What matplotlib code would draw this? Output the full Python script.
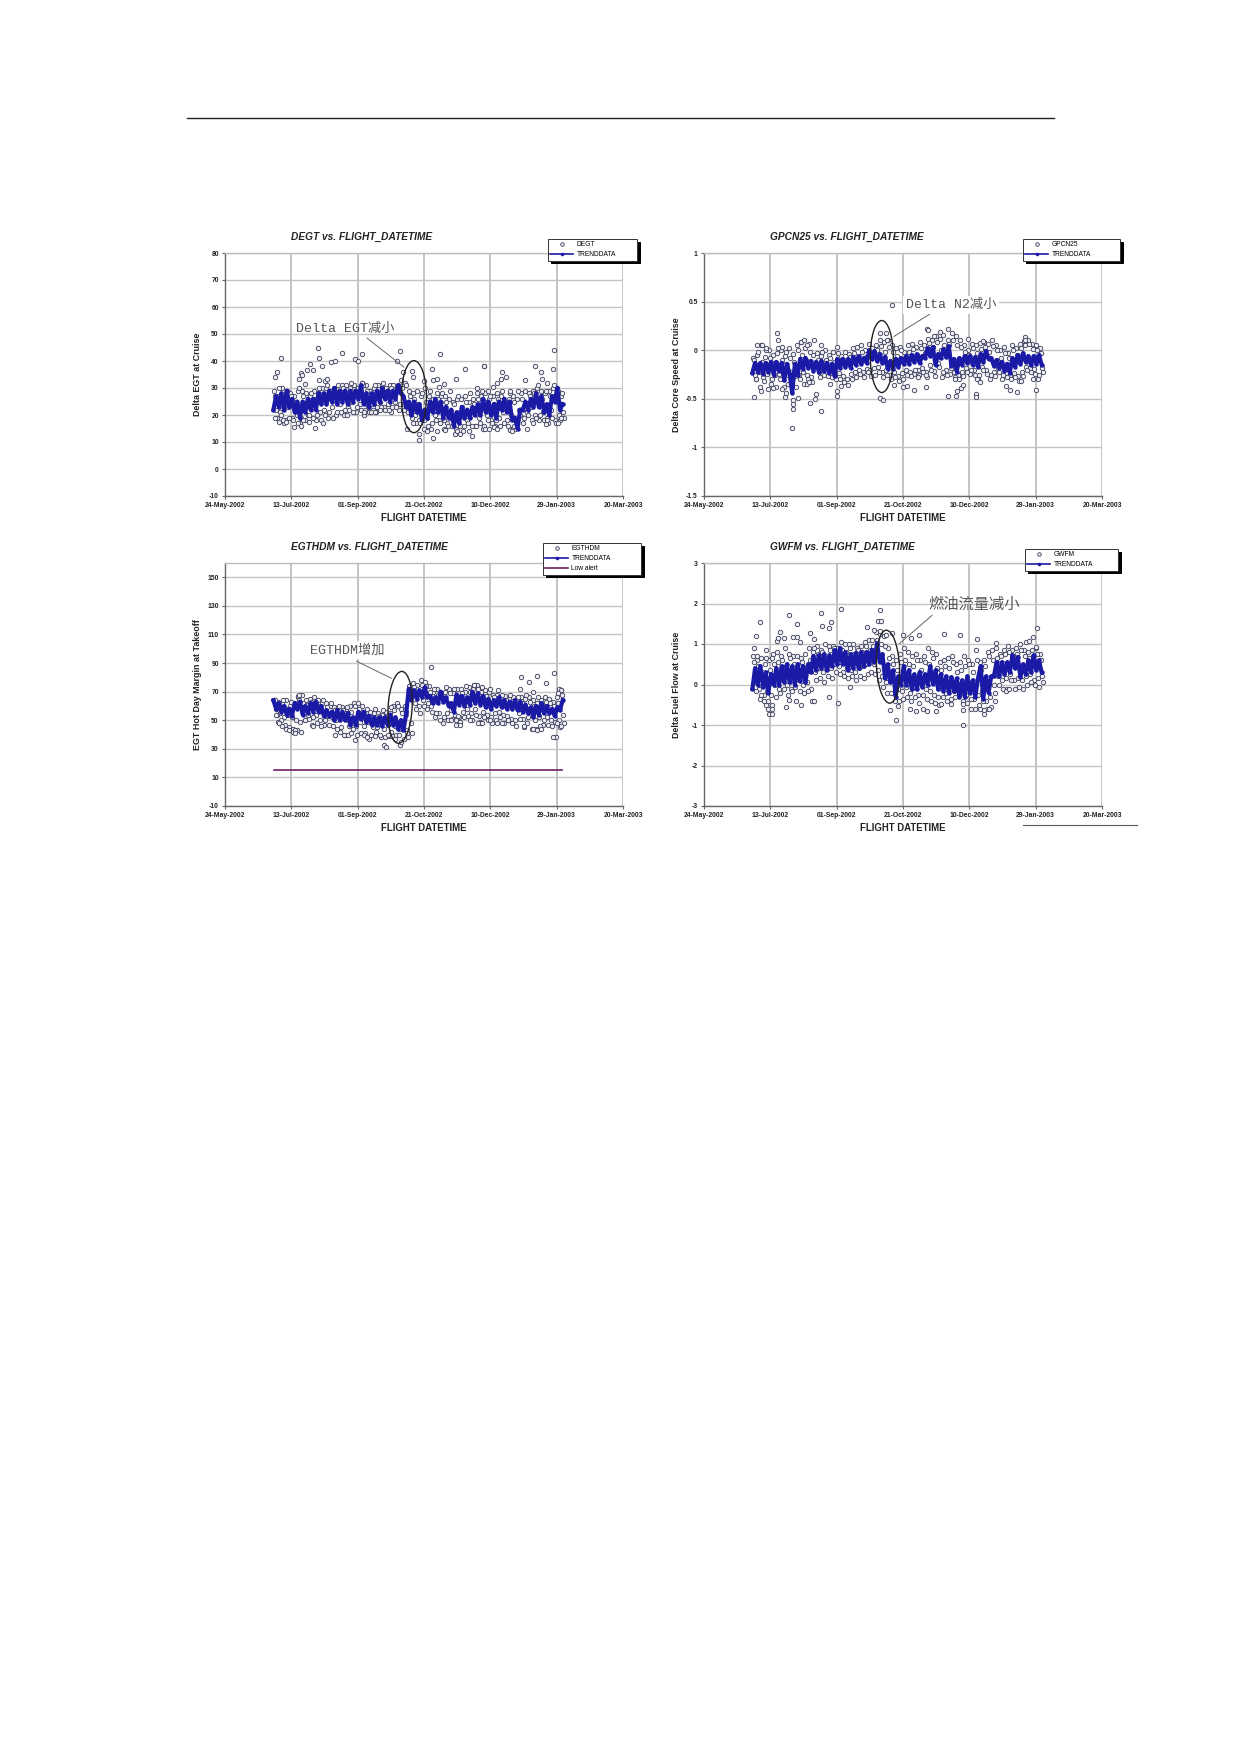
import numpy as np
import matplotlib
matplotlib.use('Agg')
import matplotlib.pyplot as plt
from matplotlib.patches import Ellipse
from matplotlib.transforms import IdentityTransform

W, H = 1239, 1752
plt.rcParams['font.family'] = ['Liberation Sans', 'DejaVu Sans']
ANNOT_FONT = ['Liberation Mono', 'Noto Sans CJK SC']

xtick_days = [0, 50, 100, 150, 200, 250, 300]
xtick_labels = ['24-May-2002', '13-Jul-2002', '01-Sep-2002', '21-Oct-2002', '10-Dec-2002', '29-Jan-2003', '20-Mar-2003']

# trend values, one every 2 days from day 37 (day 0 = 24-May-2002)
degt_trend = [22,27,23,28,22,29,23,26,21,25,19,25,21,26,22,26,22,28,24,28,24,29,25,30,24,29,25,29,24,29,25,29,26,31,24,28,23,28,24,29,25,30,26,29,25,29,26,31,28,27,23,25,20,25,21,24,18,22,19,25,21,26,21,25,19,23,19,22,16,21,17,23,19,22,19,23,20,24,20,26,21,25,20,24,19,25,22,26,21,25,18,19,15,22,22,25,22,26,23,28,23,27,21,24,20,27,25,30,22,24]
gpcn_trend = [-.23,-.13,-.22,-.13,-.24,-.13,-.22,-.12,-.25,-.12,-.21,-.13,-.31,-.14,-.24,-.44,-.14,-.26,-.09,-.19,-.08,-.18,-.11,-.21,-.12,-.22,-.11,-.21,-.13,-.23,-.14,-.27,-.09,-.18,-.09,-.17,-.09,-.18,-.07,-.15,-.06,-.14,-.08,-.13,0,-.09,-.01,-.11,-.04,-.13,-.07,-.19,-.11,-.19,-.09,-.17,-.08,-.14,-.06,-.14,-.05,-.12,-.04,-.13,-.06,-.08,.02,-.06,.03,-.15,-.04,-.08,.01,-.07,.04,-.16,-.09,-.22,-.08,-.15,-.06,-.13,-.06,-.15,-.07,-.17,-.04,-.12,-.01,-.09,-.08,-.16,-.1,-.18,-.12,-.21,-.14,-.23,-.08,-.17,-.05,-.14,-.03,-.12,-.06,-.15,-.06,-.14,-.05,-.15]
egthdm_trend = [64,58,62,56,60,54,58,53,62,58,63,54,60,55,62,56,63,56,60,53,57,53,56,50,57,50,56,50,55,47,52,47,56,51,56,49,53,47,52,47,52,46,52,47,54,47,52,44,50,43,54,72,64,71,65,71,66,73,66,67,62,66,62,70,63,66,60,62,56,68,61,67,60,66,61,70,62,69,61,67,59,65,58,64,60,66,59,64,58,63,58,64,57,63,56,61,55,59,52,60,54,62,55,60,55,58,53,59,57,64]
gwfm_trend = [-.1,.4,0,.45,-.05,.3,-.2,.25,0,.4,-.02,.45,.05,.5,.05,.45,0,.5,.08,.45,.05,.5,.3,.7,.35,.72,.4,.75,.35,.72,.45,.85,.5,.9,.5,.8,.35,.75,.4,.78,.4,.8,.45,.8,.5,.85,.55,1.02,.55,.75,.15,.5,.05,.35,-.3,.2,0,.45,0,.35,-.1,.25,-.12,.3,-.05,.25,0,.45,.02,.35,-.12,.25,-.15,.2,-.2,.18,-.15,.15,-.3,.1,-.3,.2,-.2,.1,-.3,.15,.45,-.35,.2,-.2,.2,.2,.55,.2,.55,.25,.55,.3,.72,.4,.68,.18,.5,.25,.6,.3,.72,.35,.6,.3]

# points just above and below the trend band, one every 3 days
degt_hi = [29,27,30,28,28,27,29,29,28,27,29,28,30,30,29,30,31,31,31,30,31,30,32,31,29,30,31,31,30,31,31,30,33,32,29,28,29,27,30,27,26,28,27,27,26,25,26,26,27,25,26,28,27,28,26,27,28,27,25,26,27,26,28,29,28,29,30,29,28,29,30,30,27]
degt_lo = [19,20,18,19,18,20,19,18,20,19,20,18,20,21,19,21,21,22,22,21,23,22,22,21,22,23,23,22,22,23,23,24,22,21,19,17,17,18,16,17,18,17,18,16,16,15,16,16,17,16,16,17,16,18,17,18,16,17,16,15,16,20,19,20,18,19,20,18,17,19,17,18,19]
degt_up = [27,30,26,29,27,25,30,27,24,28,26,30,27,31,26,29,28,30,27,32,29,28,31,29,27,31,28,32,29,30,28,31,30,31,27,26,24,28,25,29,24,26,28,25,29,24,27,23,25,28,24,26,29,25,27,24,26,29,24,28,25,29,26,24,27,28,31,26,29,27,31,29,28]
degt_dn = [22,21,17,23,19,21,17,22,20,23,18,21,22,19,23,20,24,20,23,25,21,24,20,23,24,21,25,23,24,21,25,22,24,23,21,20,18,21,19,15,20,18,21,17,19,18,20,14,18,20,16,19,15,20,18,16,19,21,18,20,15,22,17,21,23,20,18,21,19,22,18,20,21]
gpcn_hi = [-.08,-.05,.05,-.07,0,-.05,-.03,0,-.06,.02,-.04,.05,.08,.02,.06,-.05,-.03,-.06,0,-.05,-.02,.03,-.06,-.02,-.04,.02,.03,.05,0,.06,.02,.05,.1,.08,.1,.05,.02,.03,-.02,.05,.06,.03,.08,.05,.12,.1,.15,.12,.05,.1,.18,.15,.1,.05,0,.06,.05,.07,.08,.06,.1,.05,0,.03,-.03,.05,.02,.06,.09,.1,.06,.05,.02]
gpcn_lo = [-.3,-.38,-.32,-.4,-.3,-.38,-.3,-.38,-.35,-.3,-.38,-.3,-.35,-.3,-.33,-.45,-.28,-.25,-.27,-.28,-.3,-.3,-.33,-.36,-.3,-.28,-.24,-.28,-.22,-.27,-.25,-.22,-.28,-.25,-.3,-.28,-.32,-.3,-.25,-.27,-.2,-.25,-.22,-.28,-.2,-.27,-.17,-.22,-.25,-.18,-.28,-.3,-.27,-.22,-.2,-.25,-.25,-.2,-.24,-.25,-.27,-.22,-.25,-.28,-.3,-.28,-.32,-.27,-.2,-.22,-.24,-.25,-.22]
gpcn_up = [-.1,-.02,-.12,0,-.08,-.13,.02,-.1,-.02,-.08,-.12,0,-.05,-.1,-.02,.1,-.1,-.02,-.1,-.08,-.12,-.03,-.1,-.13,-.07,-.03,-.1,-.02,-.07,-.04,-.06,0,.04,-.02,.03,-.02,-.06,0,-.08,-.02,.01,-.05,.02,-.03,.07,.03,.08,0,-.03,.06,.1,.05,.03,-.02,-.05,.02,-.03,.01,.03,-.02,.04,0,-.08,-.03,-.08,0,-.05,.02,.05,.06,.01,0,-.03]
gpcn_dn = [-.26,-.22,-.28,-.24,-.35,-.26,-.24,-.3,-.25,-.22,-.27,-.26,-.22,-.25,-.28,-.5,-.22,-.2,-.22,-.24,-.26,-.23,-.27,-.3,-.24,-.22,-.2,-.22,-.19,-.2,-.18,-.17,-.22,-.2,-.26,-.22,-.27,-.23,-.2,-.22,-.24,-.2,-.18,-.22,-.15,-.21,-.13,-.28,-.2,-.24,-.22,-.25,-.22,-.18,-.24,-.2,-.3,-.17,-.2,-.3,-.22,-.18,-.3,-.23,-.25,-.23,-.27,-.22,-.17,-.18,-.19,-.3,-.18]
egthdm_hi = [64,63,62,64,60,62,66,68,64,65,66,64,62,62,60,59,59,59,58,60,62,62,60,56,56,55,55,54,56,55,60,62,58,60,74,76,75,78,77,74,70,72,68,70,72,69,72,72,70,73,72,75,70,71,70,68,68,66,67,65,66,64,66,65,66,64,62,64,66,65,63,66,71]
egthdm_lo = [54,50,47,45,44,43,42,50,51,52,48,46,50,47,46,44,45,40,46,44,40,41,41,37,45,45,38,38,39,39,40,33,37,38,41,58,55,60,62,56,55,50,52,50,51,50,49,52,53,50,54,49,52,50,48,50,52,48,50,48,46,51,45,52,44,44,46,50,47,46,38,45,48]
egthdm_up = [62,60,64,58,63,60,64,62,61,63,62,60,64,59,62,57,60,57,59,56,60,58,55,58,52,58,53,57,53,59,57,60,55,56,70,73,70,75,74,70,72,68,66,73,69,72,66,69,74,70,75,72,73,67,72,66,71,68,64,68,62,66,62,68,63,60,66,61,63,62,60,62,68]
egthdm_dn = [58,55,52,54,52,50,49,56,54,47,54,50,47,53,52,50,42,52,50,48,46,49,46,49,48,42,50,44,47,42,46,44,44,43,48,62,60,64,58,60,52,55,48,55,57,54,52,56,58,55,58,53,56,54,52,55,56,54,53,51,50,55,51,48,54,50,52,47,52,50,49,50,54]
gwfm_hi = [.7,.6,.65,.5,.6,.75,.8,.7,.9,.75,.7,.7,.65,.75,.9,.8,.95,.85,1.0,.95,.95,.9,1.05,1.0,1.0,1.0,.9,.95,1.05,1.1,1.1,1.3,1.25,1.2,.9,.7,.6,.75,.9,.8,.7,.75,.6,.7,.9,.8,.75,.55,.6,.65,.7,.5,.55,.7,.6,.5,.85,.55,.6,.8,.85,.9,.75,.85,.95,.85,.9,1.0,.85,.8,.85,.9,.75]
gwfm_lo = [-.15,-.35,-.25,-.4,-.5,-.3,-.2,-.1,-.25,-.15,-.4,-.15,-.2,-.15,-.4,.1,.15,.05,.2,.15,.3,.25,.2,.15,.2,.1,.2,.15,.25,.3,.25,.1,-.05,-.2,-.2,-.4,-.4,-.35,-.3,-.4,-.3,-.45,-.25,-.35,-.4,-.45,-.5,-.3,-.4,-.35,-.3,-.25,-.4,-.45,-.35,-.6,-.5,-.4,-.6,-.55,-.2,0,-.1,-.1,.1,-.1,-.05,-.1,0,.05,0,-.05,.05]
gwfm_up = [.55,.45,.3,.65,.35,.5,.55,.6,.45,.65,.5,.3,.55,.4,.6,.9,.75,.8,.65,.85,.9,.75,.85,.8,.9,.75,.85,.8,.95,.85,.95,1.1,1.0,.95,.65,.5,.35,.55,.6,.5,.45,.6,.35,.55,.5,.65,.4,.35,.45,.4,.55,.3,.35,.45,.5,.3,.6,.35,.45,.7,.6,.65,.7,.75,.8,.7,.75,.85,.7,.65,.7,.75,.6]
gwfm_dn = [.05,-.1,0,-.15,-.25,0,-.1,.1,0,-.1,-.05,.1,0,.05,-.1,.3,.4,.3,.45,.4,.5,.45,.3,.4,.35,.3,.4,.45,.5,.6,.5,.35,.2,.05,.1,-.2,-.1,-.15,-.05,-.2,-.05,-.25,0,-.1,-.15,-.25,-.3,-.1,-.2,-.1,-.15,0,-.2,-.25,-.1,-.35,-.25,-.15,-.4,-.3,0,.2,.1,.15,.25,.1,.15,.1,.2,.25,.1,.15,.2]

# scattered points away from the band, read one by one
degt_days = [38,39,42.5,56,57,58,60,62,64,66,70,71,73,71,75,77,80,83,88,98,100,103,103,130,132,134,141,142,150,156,157,160,161,162,165,174,181,190,195,195.5,198,202,205,208,209,212,215,226,234,238,239,247,248,243,38,41,44,46,52,55,57,59,63,68,74,92,105,110,113,117,137,142,146,146,150,152,157,160,165,166,173,175,177,186,184,196,199,203,205,215,216,218,228,232,242,243,251,253]
degt_vals = [34,36,41,33.5,35.5,35,31.5,36.5,39,36.5,45,41,38,33,32.5,33.5,39.5,40,43,40.7,40,42.7,32,40,43.7,36,36.2,34,32.5,37,33,33.5,30.5,42.5,31.5,33.5,37,30,38,38.2,29,30.5,32,33.5,36,34.2,29,33,38,36,33.5,37,44,32,19,17.5,18,17.5,15.7,17,15.8,18,17.5,15.3,17,20,21,21,21,22,15,17,13,10.8,15,14,11.6,14,14.7,14.5,13,14,13,12.2,14,15,15,15.5,15,14.5,14,16,15,17,16.5,18,17,19]
gpcn_days = [38,39,40,43,44,47,52,55,56,59,59,61,62,67,67,67,66,71,73,75,78,80,78,79,88,88,95,100,100,103,133,135,133,137,138,142,143,150,153,158,161,167,167,168,169,173,178,180,184,184,189,190,191,194,195,199,205,205,206,208,210,228,231,236,239,242,242,250,248]
gpcn_vals = [-.48,-.3,.05,-.42,.05,.02,-.39,.18,.1,.03,-.4,-.48,-.44,-.51,-.55,-.6,-.8,-.49,.08,.1,.05,-.54,-.35,-.33,-.63,.05,-.35,-.42,-.47,-.37,-.49,-.51,.18,.18,.1,.46,-.36,-.38,-.37,-.41,-.28,-.38,-.26,.22,.21,.15,.19,.16,.22,-.47,-.3,-.47,-.42,-.39,-.36,.12,-.45,-.48,-.3,-.33,.09,-.37,-.41,-.43,-.32,.14,.1,-.41,-.3]
egthdm_days = [38,38.5,40,41,43,46,48,51,53,53,55,56,60,66,83,90,93,95,98,105,107,110,113,117,120,121,123,128,131,133,137,155,170,174,176,177,185,193,188,191,194,200,205,209,213,222,223,225,229,232,235,232,235,238,242,247,248,252,253,250,253,251]
egthdm_vals = [64,54,49,48,46,44,43,42,43,41,67,68,50,46,40,40,40,41,36,40,38,40,39,40,33,31,40,37,40,35,41,87,50,47,53,47,50,48,75,48,48,50,48,48,50,72,80,46,77,70,81,44,43,44,76,38,83,72,71,48,46,69]
gwfm_days = [37.5,39,42.5,40,43,45,47,48,49,51,51,47,51,55,56,57,60,62,64,64,67,70,70,72,73,80,83,83,88,89,94,94,96,101,103,110,123,128,131,133,133.5,133,137,142,140,145,146,150,156,162,160,155,165,168,175,181,179,186,193,195,195,195,206,201,208,211,211,215,219,220,228,230,243,245,248,251,250]
gwfm_vals = [.9,1.2,1.55,.7,-.25,-.4,-.5,-.6,-.72,-.72,-.6,.85,.65,1.07,1.16,1.3,1.15,-.55,1.72,-.38,1.17,1.18,1.5,1.05,-.5,1.28,1.13,-.4,1.76,1.45,1.4,-.3,1.54,-.46,1.87,-.05,1.42,1.35,1.57,1.83,1.57,1.33,1.22,1.28,-.63,-.88,-.52,1.23,1.15,1.23,-.65,-.6,-.6,-.65,-.65,1.24,-.47,-.48,1.22,-1.0,-.62,-.48,1.12,-.6,-.6,-.72,-.62,-.6,-.4,1.03,-.15,-.12,1.05,1.08,1.18,1.4,.93]

alert_days = [37, 254]
alert_vals = [15, 15]


def px_rect(x0, y0, x1, y1):
    # pixel box (y down) to figure fractions
    return [x0 / W, 1 - y1 / H, (x1 - x0) / W, (y1 - y0) / H]


def draw_panel(box, title, ylabel, ylim, yticks, trend, rows, days, vals, name, legbox, note, note_xy, line, ell,
               alert=False, note_bg=False, note_size=9.5):
    ax = fig.add_axes(px_rect(*box))
    ax.set_xlim(0, 300)
    ax.set_ylim(*ylim)
    ax.set_xticks(xtick_days)
    ax.set_xticklabels(xtick_labels, fontsize=4.9, fontweight='bold', color='#222222')
    ax.set_yticks(yticks)
    ax.set_yticklabels([('%g' % t) for t in yticks], fontsize=4.9, fontweight='bold', color='#222222')
    ax.tick_params(axis='x', length=2, width=0.8, color='#666666', pad=2)
    ax.tick_params(axis='y', length=2, width=0.8, color='#666666', pad=2.5)
    ax.grid(True, axis='y', color='#c4c4c4', lw=1.0)
    ax.grid(True, axis='x', color='#b4b4b4', lw=1.1)
    ax.set_axisbelow(True)
    for s in ax.spines.values():
        s.set_color('#bdbdbd')
        s.set_linewidth(1.0)
    ax.spines['left'].set_color('#666666')
    ax.spines['bottom'].set_color('#666666')
    ax.spines['right'].set_visible(False)

    ax.text(0.165, 1.053, title, transform=ax.transAxes, ha='left', va='baseline',
            fontsize=7.3, fontweight='bold', fontstyle='italic', color='#222222')
    ax.set_xlabel('FLIGHT DATETIME', fontsize=6.9, fontweight='bold', color='#222222', labelpad=3.5)
    ax.set_ylabel(ylabel, fontsize=6.4, fontweight='bold', color='#222222')
    ax.yaxis.set_label_coords(-0.058, 0.5)

    # all the circles, then the trend over them
    xs, ys = [], []
    for k, row in enumerate(rows):
        xs += list(37 + k * 0.75 + 3 * np.arange(len(row)))
        ys += row
    xs += days
    ys += vals
    ax.plot(xs, ys, 'o', ms=3.2, mfc='#eef0f6', mec='#3c3c5a', mew=0.6, ls='none', label=name)
    tx = 36.5 + 2 * np.arange(len(trend))
    ax.plot(tx, trend, '-', color='#1a1aa6', lw=3.0, marker='o', ms=3.2, mew=0, solid_joinstyle='round', label='TRENDDATA')
    if alert:
        ax.plot(alert_days, alert_vals, color='#6e1f66', lw=1.2, label='Low alert')

    bg = dict(facecolor='white', edgecolor='none', pad=2) if note_bg else None
    ax.annotate('', xy=line[1], xytext=line[0], zorder=5,
                arrowprops=dict(arrowstyle='-', color='#666666', lw=0.7, shrinkA=0, shrinkB=0))
    ax.text(note_xy[0], note_xy[1], note, ha='center', va='center', fontsize=note_size,
            family=ANNOT_FONT, color='#555555', bbox=bg, zorder=4)

    fig.canvas.draw()
    cx, cy = ax.transData.transform(ell[:2])
    ax.add_patch(Ellipse((cx, cy), ell[2], ell[3], angle=ell[4], transform=IdentityTransform(),
                         fill=False, ec='#222222', lw=1.0, zorder=6, clip_on=False))

    lx0, ly0, lx1, ly1 = legbox
    leg = ax.legend(loc='upper left', bbox_to_anchor=px_rect(lx0, ly0, lx1, ly1), bbox_transform=fig.transFigure,
                    mode='expand', borderaxespad=0, fontsize=4.8, frameon=True, fancybox=False,
                    edgecolor='#333333', framealpha=1, borderpad=0.35, labelspacing=0.45,
                    handlelength=3.4, handletextpad=0.5, markerscale=0.8,
                    shadow={'color': 'black', 'alpha': 1, 'ox': 2, 'oy': -2})
    leg.get_frame().set_linewidth(0.7)
    # the legend shows the trend as a thin line with one marker
    leg.get_lines()[1].set_linewidth(1.2)
    leg.set_zorder(10)
    return ax


fig = plt.figure(figsize=(W / 100, H / 100), dpi=100, facecolor='white')

draw_panel((225, 253, 623, 496), 'DEGT vs. FLIGHT_DATETIME', 'Delta EGT at Cruise', (-10, 80), list(range(-10, 81, 10)),
           degt_trend, [degt_hi, degt_up, degt_dn, degt_lo], degt_days, degt_vals, 'DEGT', (548, 239, 637, 259),
           'Delta EGT减小', (91, 52), ((107, 48.5), (135, 37.7)), (142.4, 26.8, 25, 72, 0))
draw_panel((704, 253, 1102, 496), 'GPCN25 vs. FLIGHT_DATETIME', 'Delta Core Speed at Cruise', (-1.5, 1), [-1.5, -1, -0.5, 0, 0.5, 1],
           gpcn_trend, [gpcn_hi, gpcn_up, gpcn_dn, gpcn_lo], gpcn_days, gpcn_vals, 'GPCN25', (1023, 239, 1120, 259),
           'Delta N2减小', (186, 0.466), ((170, 0.37), (143, 0.14)), (134, -0.065, 23, 72, 0), note_bg=True)
draw_panel((225, 563, 623, 806), 'EGTHDM vs. FLIGHT_DATETIME', 'EGT Hot Day Margin at Takeoff', (-10, 160), list(range(-10, 151, 20)),
           egthdm_trend, [egthdm_hi, egthdm_up, egthdm_dn, egthdm_lo], egthdm_days, egthdm_vals, 'EGTHDM', (543, 543, 641, 573),
           'EGTHDM增加', (92, 99), ((99, 91.4), (125.5, 79.3)), (132, 59, 24, 72, -3), alert=True, note_bg=True)
draw_panel((704, 563, 1102, 806), 'GWFM vs. FLIGHT_DATETIME', 'Delta Fuel Flow at Cruise', (-3, 3), list(range(-3, 4)),
           gwfm_trend, [gwfm_hi, gwfm_up, gwfm_dn, gwfm_lo], gwfm_days, gwfm_vals, 'GWFM', (1025, 549, 1118, 569),
           '燃油流量减小', (204, 1.98), ((172, 1.71), (147, 1.0)), (138.7, 0.44, 23, 73, 3), note_size=11)

# page rules above and below the figure
fig.add_artist(plt.Line2D([187 / W, 1054 / W], [1 - 117.5 / H, 1 - 117.5 / H], color='#222222', lw=1.0))
fig.add_artist(plt.Line2D([1023 / W, 1137 / W], [1 - 825 / H, 1 - 825 / H], color='#555555', lw=0.8))

fig.savefig('out.png', dpi=100, facecolor='white')
